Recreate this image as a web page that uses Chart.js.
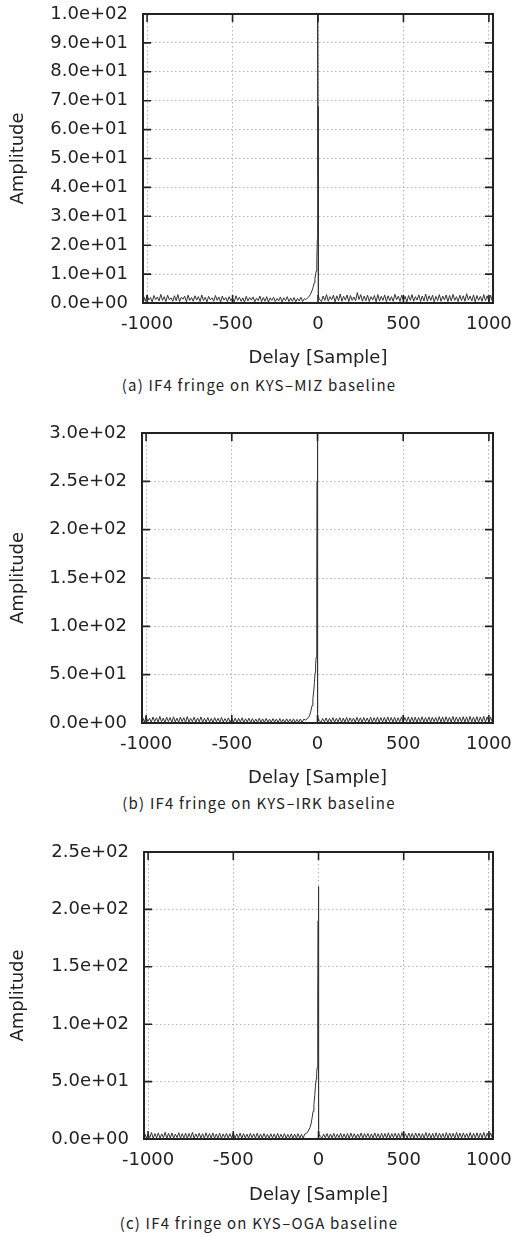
<!DOCTYPE html>
<html>
<head>
<meta charset="utf-8">
<script src="https://cdn.jsdelivr.net/npm/chart.js@4.4.0/dist/chart.umd.min.js"></script>
<style>
  html,body{margin:0;padding:0;background:#fff;}
  body{width:514px;height:1237px;position:relative;overflow:hidden;}
  .panel{position:absolute;left:0;width:560px;}
  .cap{position:absolute;left:2px;width:514px;text-align:center;font-family:"Noto Sans CJK KR","DejaVu Sans",sans-serif;font-size:15px;color:#222;letter-spacing:1.2px;line-height:20px;white-space:nowrap;}
</style>
</head>
<body>
<div class="panel" style="top:-16px;height:385px"><canvas id="chartA" width="560" height="385"></canvas></div>
<div class="cap" style="top:375px">(a) IF4 fringe on KYS–MIZ baseline</div>
<div class="panel" style="top:403px;height:386px"><canvas id="chartB" width="560" height="386"></canvas></div>
<div class="cap" style="top:793px">(b) IF4 fringe on KYS–IRK baseline</div>
<div class="panel" style="top:822px;height:384px"><canvas id="chartC" width="560" height="384"></canvas></div>
<div class="cap" style="top:1213px">(c) IF4 fringe on KYS–OGA baseline</div>
<script>
// delay axis (samples): far-left floor, fringe region, far-right floor
var leftDelays = [-1020,-1010,-1000,-990,-980,-970,-960,-950,-940,-930,-920,-910,-900,-890,-880,-870,-860,-850,-840,-830,
  -820,-810,-800,-790,-780,-770,-760,-750,-740,-730,-720,-710,-700,-690,-680,-670,-660,-650,-640,-630,
  -620,-610,-600,-590,-580,-570,-560,-550,-540,-530,-520,-510,-500,-490,-480,-470,-460,-450,-440,-430,
  -420,-410,-400,-390,-380,-370,-360,-350,-340,-330,-320,-310,-300,-290,-280,-270,-260,-250,-240,-230,
  -220,-210,-200,-190,-180,-170,-160,-150,-140,-130,-120,-110,-100,-90,-80];
var peakDelays = [-70,-60,-50,-44,-38,-32,-27,-22,-18,-14,-11,-8,-6,-4,-3,-2,-1,0,1,2,4,7,12];
var rightDelays = [20,30,40,50,60,70,80,90,100,110,120,130,140,150,160,170,180,190,200,210,
  220,230,240,250,260,270,280,290,300,310,320,330,340,350,360,370,380,390,400,410,
  420,430,440,450,460,470,480,490,500,510,520,530,540,550,560,570,580,590,600,610,
  620,630,640,650,660,670,680,690,700,710,720,730,740,750,760,770,780,790,800,810,
  820,830,840,850,860,870,880,890,900,910,920,930,940,950,960,970,980,990,1000,1010,1020];

var xTicks = [-1000,-500,0,500,1000];

// (a) KYS-MIZ
var ampLeftA = [2.3,0.6,2.8,1.0,1.9,0.4,2.6,1.2,2.1,0.7, 3.0,0.9,2.2,0.5,2.7,1.1,1.8,0.6,2.5,0.8,
  2.9,0.5,2.0,1.3,2.4,0.4,2.7,0.9,1.9,0.6, 2.5,1.0,2.2,0.5,2.8,0.8,2.0,0.4,2.3,1.1,
  1.8,0.6,2.6,0.9,2.1,0.3,2.4,1.0,1.9,0.5, 2.2,0.8,1.7,0.4,2.5,0.9,2.0,0.6,1.8,0.3,
  2.3,0.7,1.9,1.0,2.1,0.4,1.7,0.8,2.4,0.5, 1.9,0.6,2.2,0.3,1.8,0.9,2.0,0.5,1.6,0.7,
  2.1,0.4,1.8,0.8,2.2,0.5,1.7,0.6,1.9,0.4, 1.6,0.7,2.0,0.5,1.5];
var ampPeakA = [1.2,1.8,2.4,3.0,3.8,4.8,5.8,7.0,8.4,9.8,11.0,12.5,15,22,32,50,100,68,18,6,2.5,1.5,1.0];
var ampRightA = [0.5,2.4,0.9,2.9,0.6,2.2,1.1,2.7,0.4,2.5, 0.8,3.1,0.6,2.3,1.0,2.8,0.5,2.6,0.9,2.1,
  0.7,3.6,1.2,2.9,0.6,2.4,0.8,2.7,0.5,2.2, 1.0,2.6,0.4,2.9,0.7,2.3,0.9,2.8,0.5,2.5,
  0.8,2.2,0.6,3.0,1.1,2.4,0.5,2.7,0.8,2.3, 0.4,2.6,0.9,2.9,0.6,2.2,1.0,2.8,0.5,2.4,
  0.7,3.1,0.6,2.5,0.9,2.7,0.4,2.3,0.8,2.9, 0.6,2.4,1.0,2.8,0.5,2.6,0.7,3.0,0.9,2.2,
  0.5,2.7,0.8,2.5,0.6,3.2,1.0,2.4,0.7,2.8, 0.4,2.6,0.9,2.3,0.6,2.9,0.8,2.5,0.5,2.7, 0.6];
var yTicksA = [0,10,20,30,40,50,60,70,80,90,100];

// (b) KYS-IRK
var ampLeftB = [5.8,1.0,6.5,1.6,4.9,0.7,6.2,1.3,5.4,0.9, 6.8,1.2,5.1,0.6,6.0,1.5,5.6,0.8,6.4,1.1,
  5.0,0.7,6.1,1.4,5.5,0.5,6.6,1.0,4.8,1.3, 5.9,0.8,5.2,1.2,6.3,0.6,5.0,1.0,5.7,0.9,
  4.7,0.6,5.5,1.3,4.9,0.5,5.8,0.9,4.6,1.1, 5.3,0.7,4.5,1.0,5.1,0.4,4.8,0.9,5.4,0.6,
  4.4,1.0,5.0,0.5,4.6,0.8,4.2,0.6,4.9,0.9, 4.3,0.5,4.7,0.8,4.0,0.6,4.5,1.0,4.1,0.4,
  4.6,0.7,3.9,0.5,4.4,0.9,4.0,0.6,4.3,0.5, 3.8,0.8,4.2,0.6,4.0];
var ampPeakB = [3.0,4.5,6.5,9,13,18,25,33,42,52,60,68,78,100,140,250,300,160,40,10,4,2.5,2];
var ampRightB = [0.9,4.6,1.3,5.2,0.7,4.8,1.1,5.5,0.8,4.9, 1.2,5.6,0.6,5.0,1.0,5.8,0.7,5.3,1.4,5.1,
  0.8,5.9,1.1,5.4,0.6,5.7,1.2,5.2,0.9,6.0, 0.7,5.5,1.3,6.1,0.8,5.6,1.0,5.9,0.6,6.3,
  1.2,5.7,0.9,6.0,0.7,5.4,1.1,6.2,0.8,5.8, 1.3,6.4,0.7,5.9,1.0,6.1,0.6,5.6,1.2,6.5,
  0.9,5.8,1.1,6.3,0.7,6.0,1.4,5.7,0.8,6.6, 1.0,6.1,0.6,6.4,1.2,5.9,0.9,6.7,0.7,6.2,
  1.3,6.0,0.8,6.5,1.0,6.3,0.6,6.8,1.1,6.1, 0.9,6.6,0.7,6.2,1.2,6.9,0.8,6.4,1.0,6.0, 0.8];
var yTicksB = [0,50,100,150,200,250,300];

// (c) KYS-OGA
var ampLeftC = [5.0,0.8,4.4,1.2,5.6,0.6,4.7,1.0,5.3,0.7, 4.5,1.1,5.8,0.5,4.9,0.9,5.2,0.6,4.3,1.2,
  5.5,0.7,4.6,1.0,5.1,0.5,4.8,0.9,5.7,0.6, 4.4,1.1,5.0,0.7,4.6,0.5,5.4,1.0,4.7,0.8,
  5.2,0.6,4.3,0.9,5.0,0.5,4.5,1.2,4.9,0.7, 4.6,1.0,5.3,0.6,4.4,0.8,5.1,0.5,4.7,0.9,
  4.2,0.7,4.9,1.1,4.5,0.6,5.0,0.8,4.3,0.5, 4.8,0.9,4.1,0.6,4.6,1.0,4.4,0.5,4.9,0.7,
  4.2,0.8,4.7,0.5,4.0,0.9,4.5,0.6,4.3,0.7, 4.6,0.5,4.1,0.8,4.4];
var ampPeakC = [5,7,10,13,18,24,30,38,46,52,57,62,70,90,120,190,220,130,30,8,3.5,2.5,2];
var ampRightC = [0.6,4.2,1.0,4.7,0.5,4.4,0.9,4.9,0.7,4.3, 1.1,5.0,0.6,4.5,0.8,4.8,0.5,5.1,1.0,4.6,
  0.7,4.4,0.9,5.2,0.6,4.7,1.2,4.9,0.5,4.5, 0.8,5.3,1.0,4.6,0.6,5.0,0.9,4.8,0.7,5.4,
  0.5,4.7,1.1,5.1,0.8,4.9,0.6,5.5,1.0,4.6, 0.7,5.2,0.9,4.8,0.5,5.3,1.2,5.0,0.6,4.7,
  0.8,5.6,1.0,5.1,0.7,4.9,0.5,5.4,0.9,5.0, 1.1,4.8,0.6,5.5,0.8,5.2,1.0,4.9,0.5,5.7,
  0.9,5.1,0.7,5.3,1.2,4.8,0.6,5.6,0.8,5.0, 1.0,5.4,0.5,5.2,0.9,5.8,0.7,5.0,1.1,5.3, 0.7];
var yTicksC = [0,50,100,150,200,250];

var FONT = "'DejaVu Sans', sans-serif";
var INK = '#222';

function expLabel(v){
  // gnuplot style 1.0e+02
  return Number(v).toExponential(1).replace(/e([+-])(\d)$/, 'e$10$2');
}

function points(left, peak, right){
  var d = leftDelays.concat(peakDelays, rightDelays);
  var a = left.concat(peak, right);
  return d.map(function(x,i){ return {x:x, y:a[i]}; });
}

// frame + inward tick marks on all four sides
var frameTicks = {
  id:'frameTicks',
  afterDatasetsDraw: function(chart){
    var a = chart.chartArea, ctx = chart.ctx;
    var xs = chart.scales.x, ys = chart.scales.y;
    var L = 8;
    ctx.save();
    ctx.strokeStyle = INK;
    ctx.lineWidth = 1.6;
    ctx.beginPath();
    xs.ticks.forEach(function(t){
      var px = xs.getPixelForValue(t.value);
      ctx.moveTo(px, a.bottom); ctx.lineTo(px, a.bottom - L);
      ctx.moveTo(px, a.top);    ctx.lineTo(px, a.top + L);
    });
    ys.ticks.forEach(function(t){
      var py = ys.getPixelForValue(t.value);
      ctx.moveTo(a.left, py);  ctx.lineTo(a.left + L, py);
      ctx.moveTo(a.right, py); ctx.lineTo(a.right - L, py);
    });
    ctx.stroke();
    ctx.lineWidth = 2;
    ctx.strokeRect(a.left, a.top, a.right - a.left, a.bottom - a.top);
    ctx.restore();
  }
};

function makeChart(id, pts, yMax, yTicks, yWidth, xHeight){
  return new Chart(document.getElementById(id), {
    type:'line',
    data:{ datasets:[{
      data: pts,
      borderColor:'#333',
      borderWidth:1,
      pointRadius:0,
      tension:0,
      fill:false
    }]},
    options:{
      responsive:false,
      animation:false,
      layout:{padding:{top:30, right:67, left:0, bottom:0}},
      plugins:{legend:{display:false}, tooltip:{enabled:false}},
      scales:{
        x:{
          type:'linear', min:-1024, max:1024,
          afterBuildTicks:function(s){ s.ticks = xTicks.map(function(v){ return {value:v}; }); },
          afterFit:function(s){ s.height = xHeight; },
          grid:{color:'#b4b4b4', lineWidth:1, drawTicks:false},
          border:{display:false, dash:[1.5,2.5]},
          ticks:{padding:11, maxRotation:0, color:INK, font:{family:FONT, size:18},
                 callback:function(v){ return String(v); }},
          title:{display:true, text:'Delay [Sample]', color:INK, font:{family:FONT, size:18}, padding:0}
        },
        y:{
          type:'linear', min:0, max:yMax,
          afterBuildTicks:function(s){ s.ticks = yTicks.map(function(v){ return {value:v}; }); },
          afterFit:function(s){ s.width = yWidth; },
          grid:{color:'#b4b4b4', lineWidth:1, drawTicks:false},
          border:{display:false, dash:[1.5,2.5]},
          ticks:{padding:15, color:INK, font:{family:FONT, size:18}, callback:expLabel},
          title:{display:true, text:'Amplitude', color:INK, font:{family:FONT, size:18}, padding:{top:8, bottom:0}}
        }
      }
    },
    plugins:[frameTicks]
  });
}

makeChart('chartA', points(ampLeftA, ampPeakA, ampRightA), 100, yTicksA, 143, 66);
makeChart('chartB', points(ampLeftB, ampPeakB, ampRightB), 300, yTicksB, 142, 66);
makeChart('chartC', points(ampLeftC, ampPeakC, ampRightC), 250, yTicksC, 144, 67);
</script>
</body>
</html>
